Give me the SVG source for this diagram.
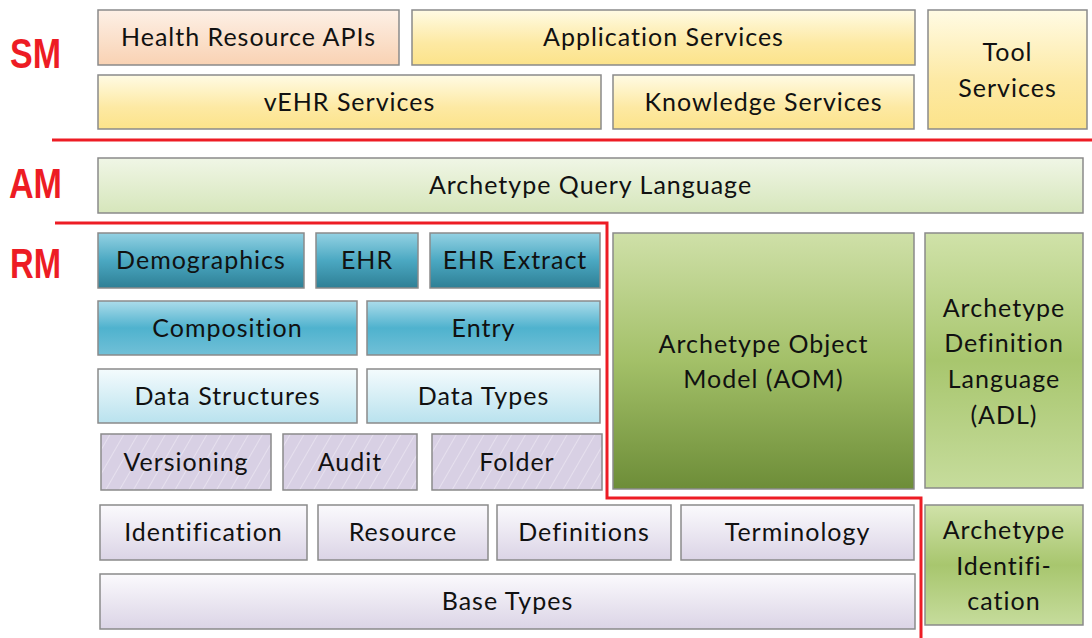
<svg xmlns="http://www.w3.org/2000/svg" width="1092" height="638" viewBox="0 0 1092 638">
<defs>
<linearGradient id="gPeach" x1="0" y1="0" x2="0" y2="1"><stop offset="0" stop-color="#fdf0e6"/><stop offset="1" stop-color="#f9d2b3"/></linearGradient>
<linearGradient id="gYellow" x1="0" y1="0" x2="0" y2="1"><stop offset="0" stop-color="#fffbe4"/><stop offset="0.6" stop-color="#fde9a3"/><stop offset="1" stop-color="#fce38a"/></linearGradient>
<linearGradient id="gLGreen" x1="0" y1="0" x2="0" y2="1"><stop offset="0" stop-color="#f0f6e6"/><stop offset="1" stop-color="#d6e6bb"/></linearGradient>
<linearGradient id="gTealDark" x1="0" y1="0" x2="0" y2="1"><stop offset="0" stop-color="#94d2e3"/><stop offset="0.5" stop-color="#4ba8c2"/><stop offset="1" stop-color="#2e7f95"/></linearGradient>
<linearGradient id="gTeal" x1="0" y1="0" x2="0" y2="1"><stop offset="0" stop-color="#acdcea"/><stop offset="0.5" stop-color="#4fb2ce"/><stop offset="1" stop-color="#71c0d7"/></linearGradient>
<linearGradient id="gTealLight" x1="0" y1="0" x2="0" y2="1"><stop offset="0" stop-color="#f4fbfd"/><stop offset="1" stop-color="#b9e2ee"/></linearGradient>
<linearGradient id="gLav" x1="0" y1="0" x2="0" y2="1"><stop offset="0" stop-color="#fbfafd"/><stop offset="1" stop-color="#dbd4e6"/></linearGradient>
<linearGradient id="gAOM" x1="0" y1="0" x2="0" y2="1"><stop offset="0" stop-color="#cfe0a8"/><stop offset="0.5" stop-color="#a3c068"/><stop offset="1" stop-color="#6d8d38"/></linearGradient>
<linearGradient id="gGreen" x1="0" y1="0" x2="0" y2="1"><stop offset="0" stop-color="#d0e2a9"/><stop offset="0.5" stop-color="#a8c66e"/><stop offset="1" stop-color="#c6dc9c"/></linearGradient>
<pattern id="hatch" width="12" height="12" patternUnits="userSpaceOnUse" patternTransform="rotate(30)">
<rect width="12" height="12" fill="#d8d0e4"/>
<line x1="0" y1="0" x2="0" y2="12" stroke="#e6e0ee" stroke-width="2"/>
</pattern>
<style>
.b{stroke:#8a8a8a;stroke-width:1.5}
.t{font-family:Lato,"Open Sans","Liberation Sans",sans-serif;font-size:25px;letter-spacing:1px;fill:#111;text-anchor:middle}
.lay{font-family:"Liberation Sans Narrow","Liberation Sans",sans-serif;font-weight:bold;font-size:42px;fill:#ed1c24}
.red{fill:none;stroke:#ed1c24;stroke-width:3}
</style>
</defs>
<rect width="1092" height="638" fill="#fff"/>

<g id="layer-labels">
<text class="lay" x="10" y="68" textLength="51" lengthAdjust="spacingAndGlyphs">SM</text>
<text class="lay" x="9" y="198" textLength="53" lengthAdjust="spacingAndGlyphs">AM</text>
<text class="lay" x="10" y="278" textLength="51" lengthAdjust="spacingAndGlyphs">RM</text>
</g>

<g id="connectors">
<line class="red" x1="52" y1="140" x2="1092" y2="140"/>
<polyline class="red" points="55,223 607,223 607,498 921,498 921,638"/>
</g>

<g id="n-health-resource-apis"><rect class="b" x="98" y="10" width="301" height="55" fill="url(#gPeach)"/><text class="t" x="248.5" y="46">Health Resource APIs</text></g>
<g id="n-application-services"><rect class="b" x="412" y="10" width="503" height="55" fill="url(#gYellow)"/><text class="t" x="663.5" y="46">Application Services</text></g>
<g id="n-tool-services"><rect class="b" x="928" y="10" width="159" height="119" fill="url(#gYellow)"/><text class="t" x="1007.5" y="61">Tool</text><text class="t" x="1007.5" y="97">Services</text></g>
<g id="n-vehr-services"><rect class="b" x="98" y="75" width="503" height="54" fill="url(#gYellow)"/><text class="t" x="349.5" y="110.5">vEHR Services</text></g>
<g id="n-knowledge-services"><rect class="b" x="613" y="75" width="301" height="54" fill="url(#gYellow)"/><text class="t" x="763.5" y="110.5">Knowledge Services</text></g>

<g id="n-aql"><rect class="b" x="98" y="158" width="985" height="55" fill="url(#gLGreen)"/><text class="t" x="590.5" y="194">Archetype Query Language</text></g>

<g id="n-demographics"><rect class="b" x="98" y="233" width="206" height="55" fill="url(#gTealDark)"/><text class="t" x="201" y="269">Demographics</text></g>
<g id="n-ehr"><rect class="b" x="316" y="233" width="102" height="55" fill="url(#gTealDark)"/><text class="t" x="367" y="269">EHR</text></g>
<g id="n-ehr-extract"><rect class="b" x="430" y="233" width="170" height="55" fill="url(#gTealDark)"/><text class="t" x="515" y="269">EHR Extract</text></g>
<g id="n-composition"><rect class="b" x="98" y="301" width="259" height="54" fill="url(#gTeal)"/><text class="t" x="227.5" y="337">Composition</text></g>
<g id="n-entry"><rect class="b" x="367" y="301" width="233" height="54" fill="url(#gTeal)"/><text class="t" x="483.5" y="337">Entry</text></g>
<g id="n-data-structures"><rect class="b" x="98" y="369" width="259" height="54" fill="url(#gTealLight)"/><text class="t" x="227.5" y="405">Data Structures</text></g>
<g id="n-data-types"><rect class="b" x="367" y="369" width="233" height="54" fill="url(#gTealLight)"/><text class="t" x="483.5" y="405">Data Types</text></g>
<g id="n-versioning"><rect class="b" x="101" y="434" width="170" height="56" fill="url(#hatch)"/><text class="t" x="186" y="471">Versioning</text></g>
<g id="n-audit"><rect class="b" x="283" y="434" width="134" height="56" fill="url(#hatch)"/><text class="t" x="350" y="471">Audit</text></g>
<g id="n-folder"><rect class="b" x="432" y="434" width="170" height="56" fill="url(#hatch)"/><text class="t" x="517" y="471">Folder</text></g>

<g id="n-aom"><rect class="b" x="613" y="233" width="301" height="256" fill="url(#gAOM)"/><text class="t" x="763.5" y="353">Archetype Object</text><text class="t" x="763.5" y="388">Model (AOM)</text></g>
<g id="n-adl"><rect class="b" x="925" y="233" width="158" height="255" fill="url(#gGreen)"/><text class="t" x="1004" y="317">Archetype</text><text class="t" x="1004" y="352">Definition</text><text class="t" x="1004" y="388">Language</text><text class="t" x="1004" y="424">(ADL)</text></g>

<g id="n-identification"><rect class="b" x="100" y="505" width="207" height="55" fill="url(#gLav)"/><text class="t" x="203.5" y="541">Identification</text></g>
<g id="n-resource"><rect class="b" x="318" y="505" width="170" height="55" fill="url(#gLav)"/><text class="t" x="403" y="541">Resource</text></g>
<g id="n-definitions"><rect class="b" x="497" y="505" width="174" height="55" fill="url(#gLav)"/><text class="t" x="584" y="541">Definitions</text></g>
<g id="n-terminology"><rect class="b" x="681" y="505" width="233" height="55" fill="url(#gLav)"/><text class="t" x="797.5" y="541">Terminology</text></g>
<g id="n-base-types"><rect class="b" x="100" y="574" width="815" height="55" fill="url(#gLav)"/><text class="t" x="507.5" y="610">Base Types</text></g>
<g id="n-archetype-identification"><rect class="b" x="925" y="505" width="158" height="120" fill="url(#gGreen)"/><text class="t" x="1004" y="539">Archetype</text><text class="t" x="1004" y="575">Identifi-</text><text class="t" x="1004" y="610">cation</text></g>
</svg>
